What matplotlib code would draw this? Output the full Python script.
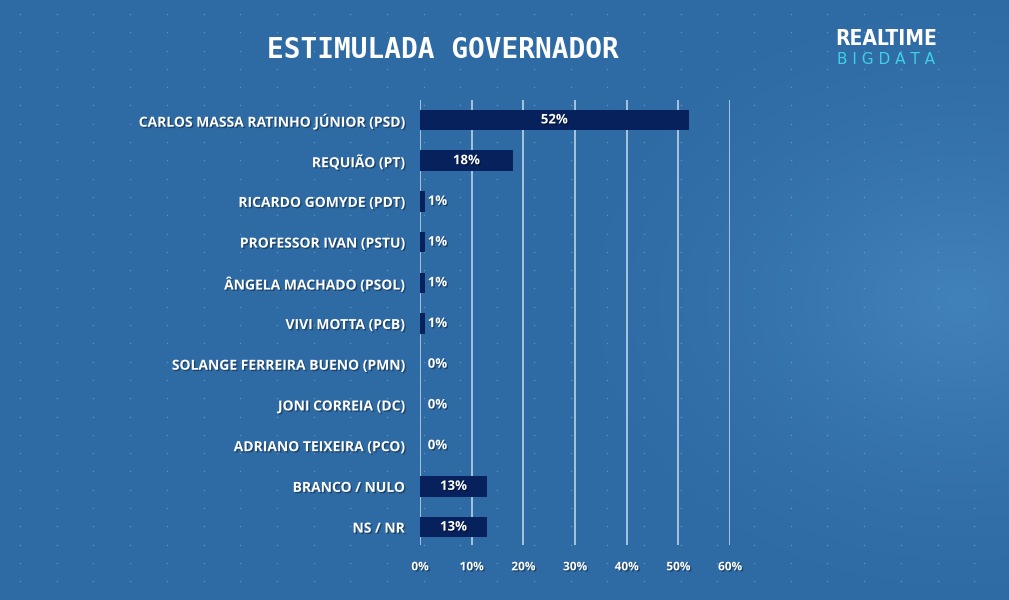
import numpy as np
import matplotlib.pyplot as plt
import matplotlib.patheffects as pe

# data
candidates = ['CARLOS MASSA RATINHO JÚNIOR (PSD)', 'REQUIÃO (PT)', 'RICARDO GOMYDE (PDT)',
              'PROFESSOR IVAN (PSTU)', 'ÂNGELA MACHADO (PSOL)', 'VIVI MOTTA (PCB)',
              'SOLANGE FERREIRA BUENO (PMN)', 'JONI CORREIA (DC)', 'ADRIANO TEIXEIRA (PCO)',
              'BRANCO / NULO', 'NS / NR']
values = [52, 18, 1, 1, 1, 1, 0, 0, 0, 13, 13]
xticks = [0, 10, 20, 30, 40, 50, 60]

bar_color = '#07215D'
shadow = [pe.withSimplePatchShadow(offset=(1, -1), shadow_rgbFace='black', alpha=0.35)]

fig = plt.figure(figsize=(10.09, 6), dpi=100)

# background with a soft lighter spot on the right
bg_ax = fig.add_axes([0, 0, 1, 1])
yy, xx = np.mgrid[0:600, 0:1009]
d = np.sqrt(((xx - 960) / 420.0) ** 2 + ((yy - 300) / 330.0) ** 2)
glow = np.clip(1 - d, 0, 1) ** 1.5
base = np.array([46, 106, 164]) / 255.0
light = np.array([66, 130, 186]) / 255.0
img = base + (light - base) * glow[..., None]
bg_ax.imshow(img, extent=[0, 1009, 600, 0], aspect='auto')
dx, dy = np.meshgrid(np.arange(20, 1009, 36.7), np.arange(14, 600, 18.3))
bg_ax.scatter(dx.ravel(), dy.ravel(), s=1.2, color='#7FA8D0', alpha=0.6, linewidths=0)
bg_ax.set_xlim(0, 1009)
bg_ax.set_ylim(600, 0)
bg_ax.axis('off')

ax = fig.add_axes([420 / 1009, 55 / 600, 310 / 1009, 445 / 600])
ax.patch.set_alpha(0)
y = np.arange(len(candidates))
ax.barh(y, values, height=0.5, color=bar_color, zorder=3)
ax.set_xlim(0, 60)
ax.set_ylim(10.44, -0.49)
ax.set_xticks(xticks)
ax.set_xticklabels([f'{v}%' for v in xticks])
ax.set_yticks(y)
ax.set_yticklabels(candidates)
ax.grid(axis='x', color='#C9DCEE', linewidth=1.1, zorder=1)
ax.tick_params(axis='x', length=0, pad=11)
ax.tick_params(axis='y', length=0, pad=11)
for s in ax.spines.values():
    s.set_visible(False)
for lab in ax.get_yticklabels():
    lab.set_color('white')
    lab.set_fontfamily('Open Sans')
    lab.set_fontweight('bold')
    lab.set_fontsize(10)
    lab.set_path_effects(shadow)
for lab in ax.get_xticklabels():
    lab.set_color('white')
    lab.set_fontfamily('Open Sans')
    lab.set_fontweight('bold')
    lab.set_fontsize(8.5)
    lab.set_path_effects(shadow)

for yi, v in zip(y, values):
    if v >= 5:
        ax.text(v / 2, yi, f'{v}%', ha='center', va='center', color='white',
                fontfamily='Open Sans', fontweight='bold', fontsize=9.5, zorder=4,
                path_effects=shadow)
    else:
        ax.text(max(v + 0.4, 1.5), yi, f'{v}%', ha='left', va='center', color='white',
                fontfamily='Open Sans', fontweight='bold', fontsize=9.5, zorder=4,
                path_effects=shadow)

fig.text(443 / 1009, 1 - 50 / 600, 'ESTIMULADA GOVERNADOR', ha='center', va='center',
         color='white', fontfamily='DejaVu Sans Mono', fontweight='bold', fontsize=20)
fig.text(886 / 1009, 1 - 39 / 600, 'REALTIME', ha='center', va='center', color='white',
         fontfamily='DejaVu Sans', fontstretch='condensed', fontweight='bold', fontsize=15)
fig.text(886 / 1009, 1 - 60 / 600, 'B I G D A T A', ha='center', va='center', color='#3FD0E8',
         fontfamily='DejaVu Sans', fontsize=11)

fig.savefig('out.png', dpi=100)
